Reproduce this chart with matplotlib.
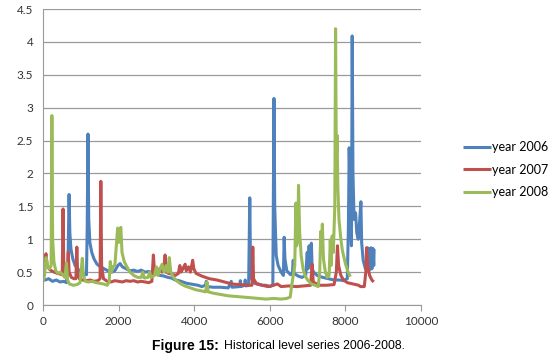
import matplotlib
matplotlib.use('Agg')
import matplotlib.pyplot as plt

# hourly level readings (hour, value)
h2006 = [0, 60, 150, 250, 350, 450, 550, 620, 660, 690, 710, 740, 790, 850, 920, 1000,
         1080, 1150, 1170, 1190, 1210, 1240, 1290, 1350, 1430, 1520, 1620, 1720, 1820,
         1900, 1980, 2040, 2100, 2200, 2300, 2400, 2500, 2600, 2700, 2800, 2900, 3000,
         3100, 3200, 3300, 3400, 3500, 3600, 3700, 3800, 3900, 4000, 4100, 4200, 4300,
         4320, 4340, 4500, 4700, 4900, 4980, 5000, 5200, 5220, 5240, 5330, 5350, 5370,
         5440, 5470, 5490, 5520, 5600, 5700, 5800, 5900, 6000, 6080, 6110, 6130, 6170,
         6220, 6300, 6360, 6380, 6400, 6450, 6550, 6600, 6620, 6640, 6750, 6850, 6950,
         6990, 7010, 7040, 7060, 7100, 7120, 7160, 7250, 7400, 7550, 7700, 7850, 7950,
         8050, 8080, 8100, 8130, 8160, 8180, 8200, 8230, 8270, 8300, 8340, 8380, 8410,
         8430, 8470, 8530, 8570, 8590, 8610, 8630, 8650, 8680, 8700, 8730, 8750, 8760]
v2006 = [0.40, 0.38, 0.40, 0.36, 0.38, 0.35, 0.36, 0.34, 0.60, 1.68, 1.10, 0.85, 0.70,
         0.60, 0.55, 0.50, 0.47, 0.46, 1.20, 2.60, 1.30, 0.95, 0.80, 0.70, 0.62, 0.58,
         0.55, 0.52, 0.50, 0.52, 0.60, 0.63, 0.58, 0.55, 0.52, 0.53, 0.51, 0.53, 0.50,
         0.51, 0.48, 0.47, 0.45, 0.44, 0.42, 0.41, 0.38, 0.37, 0.35, 0.33, 0.32, 0.31,
         0.30, 0.28, 0.30, 0.36, 0.28, 0.27, 0.27, 0.26, 0.36, 0.27, 0.28, 0.37, 0.28,
         0.30, 0.38, 0.29, 0.30, 1.63, 0.60, 0.40, 0.33, 0.32, 0.30, 0.30, 0.28, 0.30,
         3.14, 1.50, 0.75, 0.60, 0.50, 0.45, 1.03, 0.70, 0.52, 0.46, 0.50, 0.68, 0.48,
         0.44, 0.42, 0.45, 0.80, 0.55, 0.90, 0.60, 0.94, 0.55, 0.50, 0.45, 0.42, 0.40,
         0.38, 0.38, 0.37, 0.40, 1.20, 2.39, 1.50, 0.90, 4.09, 2.00, 1.30, 1.40, 1.10,
         1.00, 1.30, 1.57, 0.95, 0.68, 0.55, 0.60, 0.87, 0.55, 0.86, 0.54, 0.87, 0.55,
         0.86, 0.60, 0.85]

h2007 = [0, 40, 80, 110, 160, 220, 300, 380, 460, 510, 530, 550, 590, 640, 670, 690,
         750, 820, 870, 895, 915, 960, 1050, 1150, 1250, 1350, 1450, 1510, 1530, 1550,
         1600, 1700, 1800, 1900, 2000, 2100, 2200, 2300, 2400, 2500, 2600, 2700, 2800,
         2880, 2920, 2950, 3000, 3050, 3100, 3150, 3200, 3230, 3260, 3320, 3400, 3500,
         3580, 3620, 3650, 3700, 3760, 3790, 3850, 3900, 3960, 3990, 4050, 4200, 4400,
         4600, 4800, 5000, 5200, 5400, 5530, 5550, 5570, 5650, 5800, 5950, 6100, 6200,
         6300, 6500, 6700, 6900, 7080, 7120, 7150, 7300, 7500, 7700, 7760, 7790, 7820,
         7880, 7950, 8050, 8200, 8350, 8400, 8500, 8540, 8560, 8590, 8640, 8700, 8750]
v2007 = [0.62, 0.70, 0.78, 0.60, 0.55, 0.52, 0.50, 0.48, 0.47, 0.46, 1.46, 0.60, 0.48,
         0.45, 0.80, 0.50, 0.42, 0.40, 0.40, 0.88, 0.50, 0.40, 0.38, 0.37, 0.38, 0.36,
         0.37, 0.40, 1.88, 0.60, 0.40, 0.36, 0.35, 0.37, 0.36, 0.35, 0.37, 0.36, 0.37,
         0.35, 0.36, 0.35, 0.34, 0.36, 0.76, 0.50, 0.55, 0.52, 0.56, 0.50, 0.55, 0.76,
         0.50, 0.48, 0.47, 0.45, 0.48, 0.60, 0.50, 0.55, 0.62, 0.52, 0.58, 0.50, 0.68,
         0.55, 0.48, 0.44, 0.40, 0.38, 0.35, 0.32, 0.31, 0.30, 0.30, 0.88, 0.40, 0.32,
         0.30, 0.28, 0.30, 0.32, 0.28, 0.29, 0.28, 0.29, 0.30, 0.62, 0.35, 0.30, 0.30,
         0.31, 0.50, 0.90, 0.60, 0.45, 0.38, 0.34, 0.32, 0.30, 0.28, 0.28, 0.50, 0.87,
         0.60, 0.45, 0.38, 0.35]

h2008 = [0, 40, 80, 120, 170, 215, 235, 255, 290, 340, 400, 460, 520, 580, 620, 650,
         700, 800, 900, 980, 1040, 1070, 1120, 1200, 1300, 1400, 1500, 1600, 1700, 1750,
         1780, 1810, 1850, 1900, 1940, 1975, 2000, 2030, 2060, 2090, 2150, 2220, 2300,
         2400, 2500, 2600, 2640, 2680, 2780, 2820, 2860, 2950, 3000, 3040, 3100, 3150,
         3200, 3260, 3300, 3340, 3380, 3450, 3550, 3650, 3750, 3850, 3950, 4050, 4150,
         4300, 4340, 4370, 4500, 4700, 4900, 5100, 5300, 5500, 5700, 5900, 6100, 6300,
         6450, 6540, 6580, 6620, 6660, 6690, 6710, 6740, 6760, 6790, 6830, 6880, 6930,
         7000, 7100, 7200, 7280, 7320, 7350, 7370, 7390, 7420, 7470, 7520, 7570, 7600,
         7620, 7650, 7680, 7720, 7740, 7760, 7780, 7800, 7830, 7880, 7920, 8000, 8060,
         8130]
v2008 = [0.35, 0.45, 0.72, 0.60, 0.55, 0.60, 2.88, 1.00, 0.65, 0.52, 0.48, 0.50, 0.46,
         0.42, 0.64, 0.38, 0.32, 0.30, 0.31, 0.34, 0.71, 0.45, 0.36, 0.35, 0.36, 0.34,
         0.33, 0.32, 0.30, 0.35, 0.66, 0.50, 0.58, 0.60, 0.90, 1.17, 0.95, 1.12, 1.18,
         0.80, 0.66, 0.58, 0.50, 0.45, 0.42, 0.42, 0.50, 0.41, 0.42, 0.50, 0.42, 0.45,
         0.58, 0.45, 0.55, 0.62, 0.50, 0.60, 0.50, 0.72, 0.50, 0.42, 0.36, 0.32, 0.29,
         0.27, 0.25, 0.23, 0.22, 0.20, 0.35, 0.20, 0.18, 0.16, 0.14, 0.13, 0.12, 0.11,
         0.10, 0.09, 0.10, 0.09, 0.10, 0.12, 0.30, 0.45, 0.60, 1.55, 0.90, 1.00, 1.82,
         1.10, 0.75, 0.55, 0.45, 0.38, 0.32, 0.30, 0.28, 0.50, 1.12, 0.80, 1.23, 0.70,
         0.50, 0.42, 0.45, 0.99, 0.60, 1.05, 0.80, 1.50, 4.20, 2.20, 2.58, 1.80, 1.30,
         1.00, 0.83, 0.63, 0.52, 0.43]

series = [('year 2006', h2006, v2006, '#4F81BD'),
          ('year 2007', h2007, v2007, '#C0504D'),
          ('year 2008', h2008, v2008, '#9BBB59')]

fig = plt.figure(figsize=(5.58, 3.64), dpi=100)
ax = fig.add_axes([43 / 558, 59 / 364, 378 / 558, 296 / 364])

for name, hh, vv, col in series:
    ax.plot(hh, vv, color=col, lw=2.2, label=name, solid_capstyle='butt')

ax.set_xlim(0, 10000)
ax.set_ylim(0, 4.5)
ax.set_xticks(range(0, 10001, 2000))
ax.set_yticks([i * 0.5 for i in range(10)])
ax.set_yticklabels(['0', '0.5', '1', '1.5', '2', '2.5', '3', '3.5', '4', '4.5'])
ax.grid(axis='y', color='#9a9a9a', lw=0.9)
ax.set_axisbelow(True)
for s in ('top', 'right'):
    ax.spines[s].set_visible(False)
for s in ('left', 'bottom'):
    ax.spines[s].set_color('#9a9a9a')
ax.tick_params(axis='y', length=0, pad=7, labelsize=8.5, labelcolor='#333333')
ax.tick_params(axis='x', length=4, color='#9a9a9a', pad=4, labelsize=8.5,
               labelcolor='#333333')
for lab in ax.get_xticklabels() + ax.get_yticklabels():
    lab.set_fontfamily('Lato')

ax.legend(loc='upper left', bbox_to_anchor=(458 / 558, 228 / 364),
          bbox_transform=fig.transFigure, frameon=False, handlelength=2.2,
          labelspacing=0.85, handletextpad=0.15, borderaxespad=0,
          prop={'family': 'Lato', 'size': 9})

fig.text(152 / 558, 18 / 364, 'Figure 15:', ha='left', va='center',
         fontsize=10, fontweight='bold', family='Liberation Sans')
fig.text(405 / 558, 18 / 364, 'Historical level series 2006-2008.', ha='right',
         va='center', fontsize=8.8, family='Liberation Sans')

fig.savefig('out.png', dpi=100)
